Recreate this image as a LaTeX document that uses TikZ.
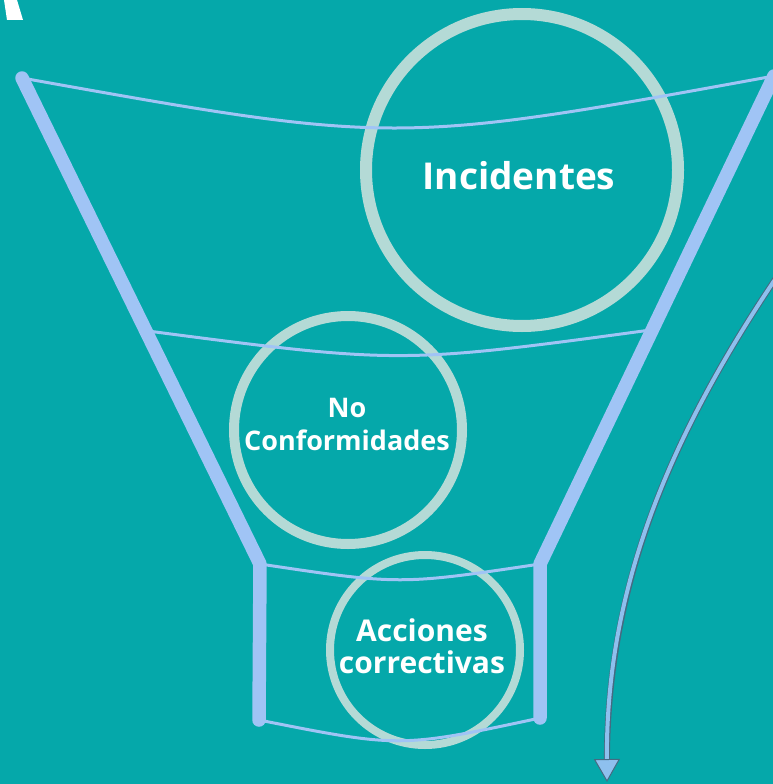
\documentclass[tikz,border=0pt]{standalone}
\usepackage{fontspec}
\setmainfont{Open Sans}
\usetikzlibrary{arrows.meta,calc}
\definecolor{bgteal}{HTML}{05A8AA}
\definecolor{funnelblue}{HTML}{A0C4F5}
\definecolor{ringgrey}{HTML}{B4DAD6}
\definecolor{arrowblue}{HTML}{8EC0EE}
\definecolor{arrowedge}{HTML}{466A82}
\tikzset{
  wall/.style = {funnelblue, line width=13.5pt, line cap=round, line join=round},
  rim/.style = {funnelblue, line width=3pt},
  ring/.style = {circle, draw=ringgrey},
  caption/.style = {text=white, align=center, inner sep=0pt}
}

\begin{document}
\begin{tikzpicture}[x=1pt,y=-1pt]
  \fill[bgteal] (0,0) rectangle (773,784);
  \useasboundingbox (0,0) rectangle (773,784);
  \fill[white] (4,0) -- (17,0) -- (23,20) -- (7,20) -- cycle;
  %
  \node[ring, line width=12pt, minimum size=312pt] (incidentes) at (522,170) {};
  \node[ring, line width=10pt, minimum size=228pt] (noconf) at (348,430) {};
  \node[ring, line width=8pt, minimum size=190pt] (acciones) at (425,650) {};
  \node[caption, font=\bfseries\fontsize{37}{40}\selectfont]
    (incidentestext) at ($(incidentes.center)+(-3,6)$) {Incidentes};
  \node[caption, font=\bfseries\fontsize{27}{33}\selectfont]
    (noconftext) at ($(noconf.center)+(-1,-6)$) {No\\Conformidades};
  \node[caption, font=\bfseries\fontsize{30}{32}\selectfont]
    (accionestext) at ($(acciones.center)+(-3,-4)$) {Acciones\\correctivas};
  %
  \coordinate (tl) at (22,78);
  \coordinate (tr) at (774,76);
  \coordinate (nl) at (260,564);
  \coordinate (nr) at (540,564);
  \coordinate (bl) at (259,720);
  \coordinate (br) at (540,718);
  \coordinate (ml) at ($(tl)!0.52!(nl)$);
  \coordinate (mr) at ($(tr)!0.52!(nr)$);
  \draw[rim] (tl) .. controls (396,145) .. (tr);
  \draw[rim] (ml) .. controls (400,364) .. (mr);
  \draw[rim] (nl) .. controls (400,585) .. (nr);
  \draw[rim] (bl) .. controls (400,748) .. (br);
  \draw[wall] (tl) -- (nl) -- (bl);
  \draw[wall] (tr) -- (nr) -- (br);
  %
  \coordinate (arrowstart) at (778,275);
  \coordinate (arrowend) at (607,782);
  \draw[arrowedge, line width=6pt, shorten >=15pt]
    (arrowstart) .. controls (660,450) and (606,600) .. (arrowend);
  \draw[arrowblue, line width=4pt,
        -{Triangle[width=26pt,length=23pt,line width=1pt,color=arrowedge,fill=arrowblue]}]
    (arrowstart) .. controls (660,450) and (606,600) .. (arrowend);
\end{tikzpicture}
\end{document}
